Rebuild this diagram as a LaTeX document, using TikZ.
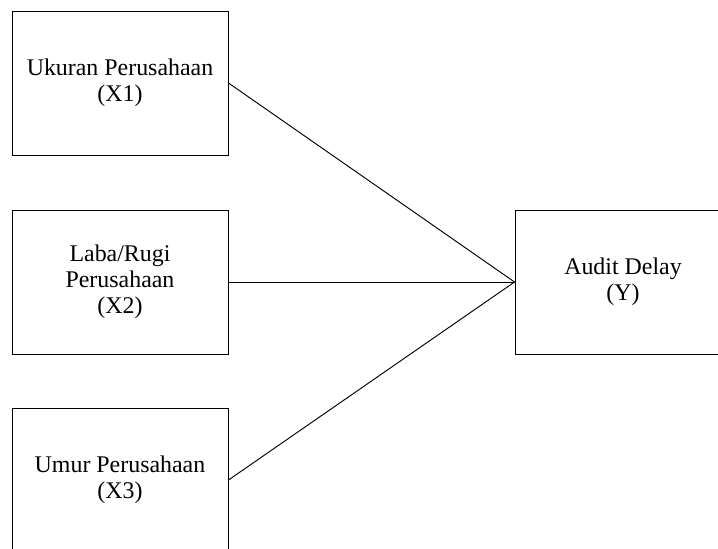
\documentclass[tikz,border=0pt]{standalone}
\usepackage{fontspec}
\setmainfont{Liberation Serif}
\usepackage{tikz}

\begin{document}
\begin{tikzpicture}[
            box/.style={draw, rectangle, line width=0.8pt, minimum width=6.48cm, minimum height=4.32cm, align=center, font=\fontsize{20.4}{22}\selectfont}
            ]

            % Frame of the picture
            \useasboundingbox (0,0) rectangle (21.54,-16.44);
            \clip (0,0) rectangle (21.54,-16.44);

            % Nodes with manual coordinates
            \node[box] (ukuran) at (3.6,-2.49) {Ukuran Perusahaan\\(X1)};
            \node[box] (laba) at (3.6,-8.46) {Laba/Rugi\\Perusahaan\\(X2)};
            \node[box] (umur) at (3.6,-14.4) {Umur Perusahaan\\(X3)};
            \node[box] (delay) at (18.69,-8.46) {Audit Delay\\(Y)};

            % Lines
            \draw[line width=0.8pt] (ukuran.east) -- (delay.west);
            \draw[line width=0.8pt] (laba.east) -- (delay.west);
            \draw[line width=0.8pt] (umur.east) -- (delay.west);
        \end{tikzpicture}
\end{document}
